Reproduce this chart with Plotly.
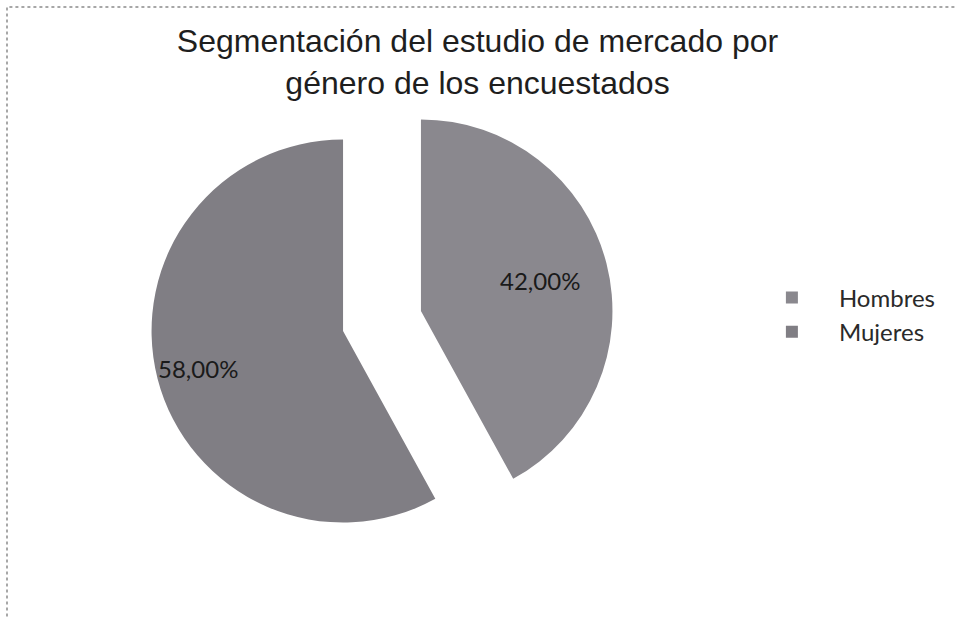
import math
import plotly.graph_objects as go

# Data
categories = ["Hombres", "Mujeres"]
values = [42.00, 58.00]
value_labels = ["42,00%", "58,00%"]
colors = ["#8a888e", "#807e84"]

W, H = 955, 618

# Pie geometry (pixels) - layout/style
CX, CY, R = 382.0, 321.0, 191.5
PULL = 0.21
LABEL_R = [0.64, 0.78]  # label distance as fraction of radius (style)

half = R * (1 + PULL)
dom_x = [(CX - half) / W, (CX + half) / W]
dom_y = [1 - (CY + half) / H, 1 - (CY - half) / H]

fig = go.Figure(
    go.Pie(
        labels=categories,
        values=values,
        textinfo="none",
        sort=False,
        direction="clockwise",
        rotation=0,
        pull=[PULL] * len(values),
        marker=dict(colors=colors, line=dict(width=0)),
        domain=dict(x=dom_x, y=dom_y),
        hoverinfo="label+percent",
    )
)

# Data labels placed from the slice angles derived from the values
total = sum(values)
cum = 0.0
annotations = []
for v, lab, f in zip(values, value_labels, LABEL_R):
    mid = (cum + v / 2) / total * 2 * math.pi
    cum += v
    d = (PULL + f) * R
    px = CX + d * math.sin(mid)
    py = CY - d * math.cos(mid)
    annotations.append(
        dict(
            x=px / W,
            y=1 - py / H,
            xref="paper",
            yref="paper",
            text=lab,
            showarrow=False,
            font=dict(family="Lato", size=24, color="#1a1a1a"),
            xanchor="center",
            yanchor="middle",
        )
    )

fig.update_layout(
    width=W,
    height=H,
    margin=dict(l=0, r=0, t=0, b=0),
    paper_bgcolor="white",
    plot_bgcolor="white",
    title=dict(
        text="Segmentación del estudio de mercado por<br>género de los encuestados",
        font=dict(family="Liberation Sans", size=32, color="#1e1e1e"),
        x=0.5,
        xanchor="center",
        y=1 - 52 / H,
        yanchor="middle",
        yref="container",
    ),
    legend=dict(
        x=0.780,
        y=1 - 315 / H,
        xanchor="left",
        yanchor="middle",
        font=dict(family="Lato", size=24, color="#2a2a2a"),
        itemwidth=84,
        bgcolor="rgba(0,0,0,0)",
    ),
    showlegend=True,
    annotations=annotations,
    shapes=[
        dict(
            type="rect",
            xref="paper",
            yref="paper",
            x0=7 / W,
            x1=1.05,
            y0=-0.05,
            y1=1 - 7 / H,
            line=dict(color="#8a8a8a", width=1.5, dash="dot"),
            fillcolor="rgba(0,0,0,0)",
        )
    ],
)

fig.write_html(
    "out.html",
    config={"displayModeBar": False},
    post_script="document.body.style.margin='0';document.body.style.overflow='hidden';",
)
